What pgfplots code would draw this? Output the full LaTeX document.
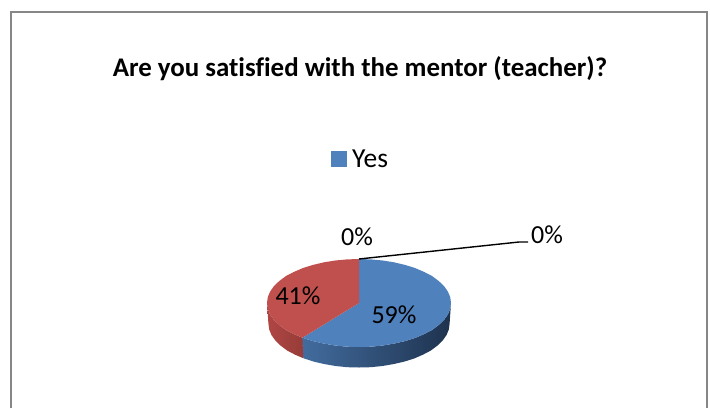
\documentclass[border=0pt]{standalone}
\usepackage{pgfplots}
\pgfplotsset{compat=1.18}
\usepackage{fontspec}
\setmainfont[Ligatures=NoCommon]{Carlito}
\definecolor{blueTop}{RGB}{79,129,189}
\definecolor{redTop}{RGB}{192,80,77}
\definecolor{blueL}{RGB}{66,108,158}
\definecolor{blueR}{RGB}{30,50,78}
\definecolor{redL}{RGB}{176,70,68}
\definecolor{redR}{RGB}{150,60,56}
\definecolor{framegray}{RGB}{134,134,134}
\begin{document}
\begin{tikzpicture}
\path[use as bounding box] (0,0) rectangle (710pt,408pt);
\begin{axis}[
  at={(0,0)},anchor=south west,
  x=1pt,y=1pt,scale only axis,
  width=710pt,height=408pt,
  xmin=0,xmax=710,ymin=0,ymax=408,
  y dir=reverse,
  hide axis,clip=false,
]
% frame
\addplot[framegray,line width=1.8pt] coordinates {(11,408)(11,12)(707,12)(707,408)};
% side wall, blue: t=90..218 of the rim, then back along the lower rim
\addplot[draw=none,left color=blueL,right color=blueR] coordinates {
(451,303)(450.2,309)(447.9,314.4)(444,320)(438.7,325)(432,330)(424.1,334.1)(415,338)(405,341.1)(394,343.6)(382.8,345.5)(371,346.7)(359,347)(347,346.7)(335.2,345.5)(324,343.6)(313,341.1)(302.4,337.7)
(303.3,358.2)(313.7,361.6)(324.5,364.1)(335.6,366)(347.2,367.2)(359,367.5)(370.8,367.2)(382.4,366)(393.5,364.1)(404.3,361.6)(414.2,358.5)(423.1,354.6)(430.9,350.5)(437.5,345.5)(442.7,340.5)(446.6,334.9)(448.8,329.5)(449.6,323.5)
} -- cycle;
% side wall, red
\addplot[draw=none,left color=redL,right color=redR] coordinates {
(302.4,337.7)(293.9,334.1)(286,330)(279.3,325)(274,320)(270.1,314.4)(267.8,309)(267,303)
(268.4,323.5)(269.2,329.5)(271.4,334.9)(275.3,340.5)(280.5,345.5)(287.1,350.5)(294.9,354.6)(303.3,358.2)
} -- cycle;
% top, 59 %
\addplot[draw=none,fill=blueTop] coordinates {
(359,303)(359,259)(371,259.4)(382.8,260.5)(394,262.3)(405,264.9)(415,268)(424.1,271.9)(432,276)(438.7,281)(444,286)(447.9,291.6)(450.2,297)(451,303)(450.2,309)(447.9,314.4)(444,320)(438.7,325)(432,330)(424.1,334.1)(415,338)(405,341.1)(394,343.6)(382.8,345.5)(371,346.7)(359,347)(347,346.7)(335.2,345.5)(324,343.6)(313,341.1)(302.4,337.7)
} -- cycle;
% top, 41 %
\addplot[draw=none,fill=redTop] coordinates {
(359,303)(302.4,337.7)(293.9,334.1)(286,330)(279.3,325)(274,320)(270.1,314.4)(267.8,309)(267,303)(267.8,297)(270.1,291.6)(274,286)(279.3,281)(286,276)(293.9,271.9)(303,268)(313,264.9)(324,262.3)(335.2,260.5)(347,259.4)(359,259)
} -- cycle;
% leader line of the outer 0 %
\addplot[black,line width=1.4pt] coordinates {(359,259)(519,242)(528,242)};
\node[font=\fontsize{26.9}{30}\selectfont\bfseries] at (axis cs:360,69) {Are you satisfied with the mentor (teacher)?};
\addplot[only marks,mark=square*,mark size=7.2pt,mark options={blueTop,draw=blueTop}] coordinates {(338.5,158.5)};
\node[font=\fontsize{27.5}{30}\selectfont,anchor=west,inner sep=0pt] at (axis cs:352,159) {Yes};
\node[font=\fontsize{26}{30}\selectfont] at (axis cs:357,237) {0\%};
\node[font=\fontsize{26}{30}\selectfont] at (axis cs:547,235) {0\%};
\node[font=\fontsize{26}{30}\selectfont] at (axis cs:298,296) {41\%};
\node[font=\fontsize{26}{30}\selectfont] at (axis cs:394,315) {59\%};
\end{axis}
\end{tikzpicture}
\end{document}
